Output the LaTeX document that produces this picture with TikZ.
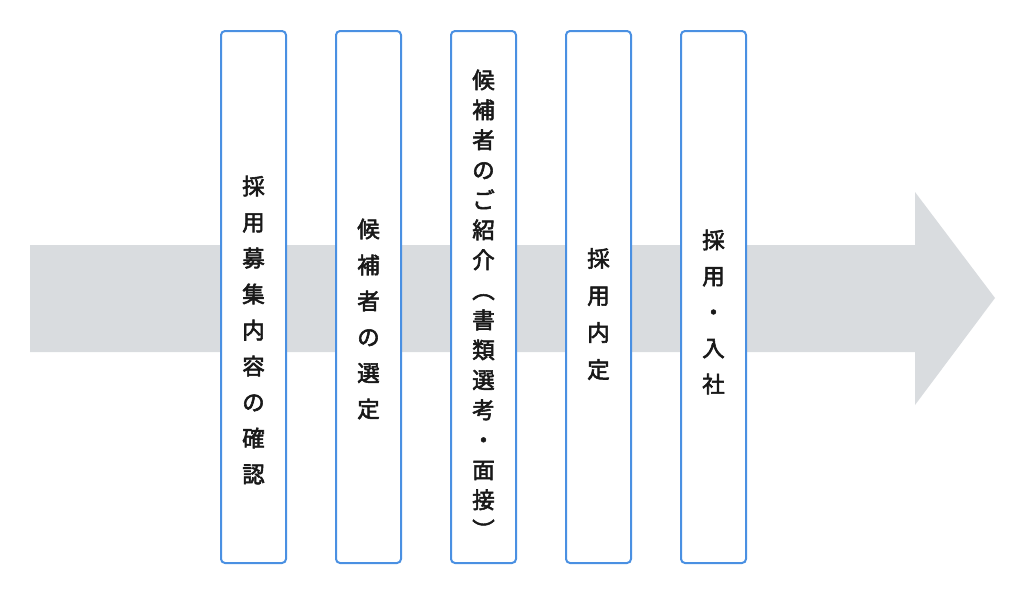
\documentclass[tikz,border=0pt]{standalone}
\usepackage{fontspec}
\newfontfamily\cjk[FakeBold=2.5]{Noto Sans CJK JP}
\definecolor{arrowgray}{HTML}{D9DCDF}
\definecolor{boxblue}{HTML}{4A90E2}
\begin{document}
\begin{tikzpicture}[x=1pt,y=-1pt,
  stage/.style={draw=boxblue,line width=2pt,rounded corners=4pt,fill=white},
  vtext/.style={align=center,inner sep=0pt,text=black!90}]
\useasboundingbox (0,0) rectangle (1024,595);
\fill[arrowgray] (30,245) -- (915,245) -- (915,192) -- (995,298) -- (915,405) -- (915,352) -- (30,352) -- cycle;
\foreach \x in {221,336,451,566,681}{
  \draw[stage] (\x,31) rectangle ++(65,532);
}
\node[vtext,font=\cjk\fontsize{22.5}{36}\selectfont] (ta) at (253.5,330) {採\\用\\募\\集\\内\\容\\の\\確\\認};
\node[vtext,font=\cjk\fontsize{22.5}{36}\selectfont] (tb) at (368.5,319) {候\\補\\者\\の\\選\\定};
\node[vtext,font=\cjk\fontsize{22.5}{30}\selectfont] (tc) at (483.5,304) {候\\補\\者\\の\\ご\\紹\\介\\︵\\書\\類\\選\\考\\・\\面\\接\\︶};
\node[vtext,font=\cjk\fontsize{22.5}{37}\selectfont] (td) at (598.5,314) {採\\用\\内\\定};
\node[vtext,font=\cjk\fontsize{22.5}{36}\selectfont] (te) at (713.5,312) {採\\用\\・\\入\\社};
\end{tikzpicture}
\end{document}
